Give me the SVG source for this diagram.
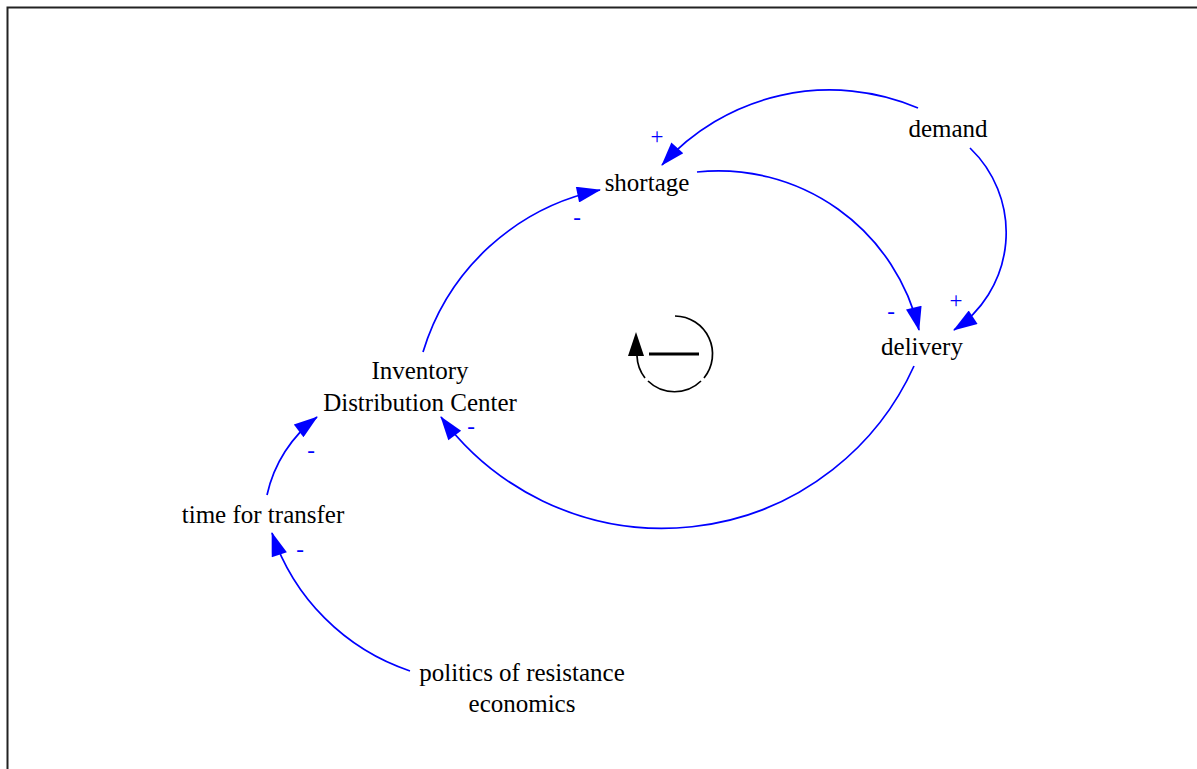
<svg xmlns="http://www.w3.org/2000/svg" width="1197" height="769" viewBox="0 0 1197 769">
  <defs>
    <marker id="arrow-blue" markerUnits="userSpaceOnUse" markerWidth="26" markerHeight="16" viewBox="0 0 24 16" refX="23" refY="8" orient="auto">
      <path d="M0,0 L24,8 L0,16 z" fill="#0000ff"/>
    </marker>
    <style>
      .node text { font-family: "Liberation Serif", "Times New Roman", serif; font-size: 25px; fill: #000; text-anchor: middle; }
      .link { fill: none; stroke: #0000ff; stroke-width: 1.7; marker-end: url(#arrow-blue); }
      .pol { font-family: "Liberation Serif", "Times New Roman", serif; font-size: 23px; fill: #0000ff; text-anchor: middle; }
      .loop { fill: none; stroke: #000; stroke-width: 1.7; }
    </style>
  </defs>

  <rect width="1197" height="769" fill="#fff"/>
  <!-- page frame -->
  <path d="M7.5,769 V7.5 H1197" fill="none" stroke="#222" stroke-width="2"/>

  <!-- causal links -->
  <g id="connectors">
    <path class="link" d="M918,108 A225,225 0 0 0 662,165"/>
    <path class="link" d="M697,172 A206,206 0 0 1 919,330"/>
    <path class="link" d="M970,148 A117,117 0 0 1 954,330"/>
    <path class="link" d="M914,366 A276,276 0 0 1 441,417"/>
    <path class="link" d="M423,352 A235,235 0 0 1 600,190"/>
    <path class="link" d="M267,495 A134,134 0 0 1 317,417"/>
    <path class="link" d="M410,671 A219,219 0 0 1 272,533"/>
    <!-- link polarities -->
    <text class="pol" x="657" y="144">+</text>
    <text class="pol" x="577" y="225">-</text>
    <text class="pol" x="891" y="319">-</text>
    <text class="pol" x="956" y="308">+</text>
    <text class="pol" x="471" y="434">-</text>
    <text class="pol" x="311" y="458">-</text>
    <text class="pol" x="300" y="557">-</text>
  </g>

  <!-- balancing loop marker -->
  <g id="loop-balancing">
    <path class="loop" d="M675,316 A38,38 0 0 1 704,378"/>
    <path class="loop" d="M701,381 A38,38 0 0 1 648,381"/>
    <path class="loop" d="M645,378 A38,38 0 0 1 637,356"/>
    <path d="M636,332 L644,356 L628,356 z" fill="#000"/>
    <rect x="649" y="352.5" width="50" height="3" fill="#000"/>
  </g>

  <g id="node-demand" class="node"><text x="948" y="137">demand</text></g>
  <g id="node-shortage" class="node"><text x="647" y="191">shortage</text></g>
  <g id="node-delivery" class="node"><text x="922" y="355">delivery</text></g>
  <g id="node-inventory" class="node">
    <text x="420" y="379">Inventory</text>
    <text x="420" y="411">Distribution Center</text>
  </g>
  <g id="node-time-for-transfer" class="node"><text x="263" y="523">time for transfer</text></g>
  <g id="node-politics" class="node">
    <text x="522" y="681">politics of resistance</text>
    <text x="522" y="712">economics</text>
  </g>
</svg>
